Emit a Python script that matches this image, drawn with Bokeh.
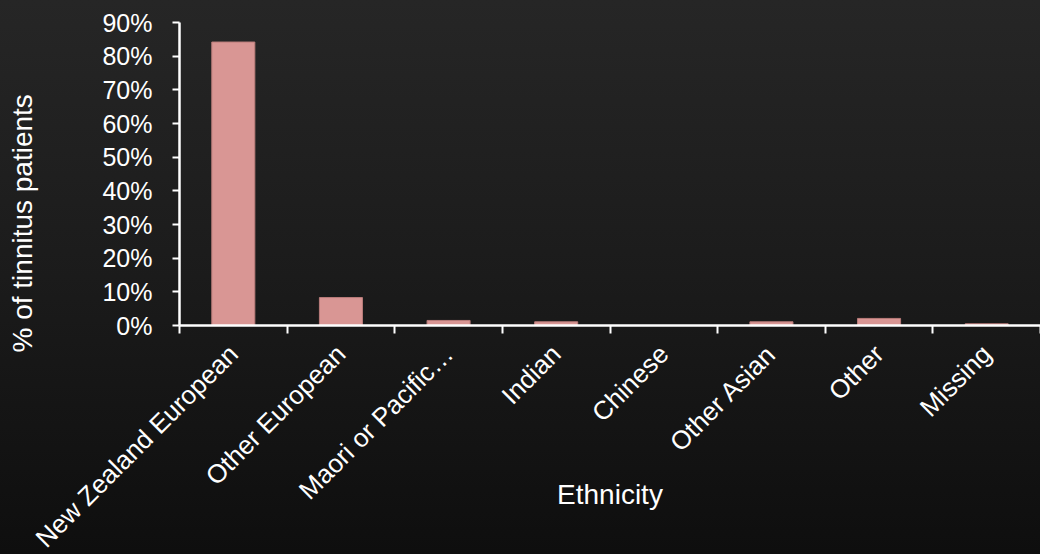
import math

from bokeh.embed import file_html
from bokeh.models import ColumnDataSource, FixedTicker, LinearAxis, NumeralTickFormatter, Range1d, Title
from bokeh.plotting import figure
from bokeh.resources import INLINE

# Share of tinnitus patients by ethnicity
categories = [
    "New Zealand European",
    "Other European",
    "Maori or Pacific\u2026",
    "Indian",
    "Chinese",
    "Other Asian",
    "Other",
    "Missing",
]
shares = [0.842, 0.083, 0.015, 0.011, 0.0, 0.011, 0.021, 0.005]
y_ticks = [0.0, 0.1, 0.2, 0.3, 0.4, 0.5, 0.6, 0.7, 0.8, 0.9]

FONT = "Liberation Sans"
TEXT = "#ffffff"

n = len(categories)
centers = [i + 0.5 for i in range(n)]
source = ColumnDataSource(dict(x=centers, share=shares, name=categories))

p = figure(
    width=1040,
    height=554,
    x_range=Range1d(0, n),
    y_range=Range1d(0, 0.9),
    output_backend="svg",
    toolbar_location=None,
    min_border_left=179,
    min_border_right=0,
    min_border_top=22,
    min_border_bottom=229,
)

# dark vertical gradient behind a transparent canvas
p.background_fill_alpha = 0
p.border_fill_alpha = 0
p.outline_line_color = None
p.styles = {"background": "linear-gradient(to bottom, #262626 0%, #1b1b1b 50%, #0e0e0e 100%)"}
p.xgrid.visible = False
p.ygrid.visible = False

p.vbar(
    x="x",
    top="share",
    width=0.4,
    source=source,
    fill_color="#d99694",
    line_color="#b97c7a",
    line_width=1,
)

# x axis: labels at category centres, tick marks between categories
xa = p.xaxis[0]
xa.ticker = FixedTicker(ticks=centers, minor_ticks=list(range(n + 1)))
xa.major_label_overrides = {c: name for c, name in zip(centers, categories)}
xa.major_tick_line_color = None
xa.minor_tick_line_color = "white"
xa.minor_tick_line_width = 2
xa.minor_tick_in = 0
xa.minor_tick_out = 8
xa.axis_line_color = "white"
xa.axis_line_width = 2.5
xa.major_label_orientation = math.pi / 4
xa.major_label_standoff = 16
xa.major_label_text_font = FONT
xa.major_label_text_font_size = "26px"
xa.major_label_text_color = TEXT
xa.axis_label = "Ethnicity"
xa.axis_label_standoff = -88
xa.axis_label_text_font = FONT
xa.axis_label_text_font_size = "28px"
xa.axis_label_text_font_style = "normal"
xa.axis_label_text_color = TEXT

# y axis
ya = p.yaxis[0]
ya.ticker = FixedTicker(ticks=y_ticks)
ya.formatter = NumeralTickFormatter(format="0%")
ya.minor_tick_line_color = None
ya.major_tick_line_color = "white"
ya.major_tick_line_width = 2
ya.major_tick_in = 0
ya.major_tick_out = 7
ya.axis_line_color = "white"
ya.axis_line_width = 2.5
ya.major_label_standoff = 20
ya.major_label_text_font = FONT
ya.major_label_text_font_size = "25px"
ya.major_label_text_color = TEXT

# empty gap between the y tick labels and the y axis title
gap = LinearAxis(
    ticker=FixedTicker(ticks=[0]),
    major_label_overrides={0: ""},
    major_tick_out=55,
    major_tick_in=0,
    major_label_standoff=0,
    major_label_text_font_size="1px",
    major_label_text_color=None,
    axis_line_color=None,
    major_tick_line_color=None,
    minor_tick_line_color=None,
)
p.add_layout(gap, "left")

# y axis title, set lower than the frame's middle
p.add_layout(Title(
    text="% of tinnitus patients",
    align="left", vertical_align="top", offset=-27, standoff=10,
    text_font=FONT, text_font_size="28px", text_font_style="normal",
    text_color=TEXT,
), "left")

open("out.html", "w").write(file_html(p, INLINE))
